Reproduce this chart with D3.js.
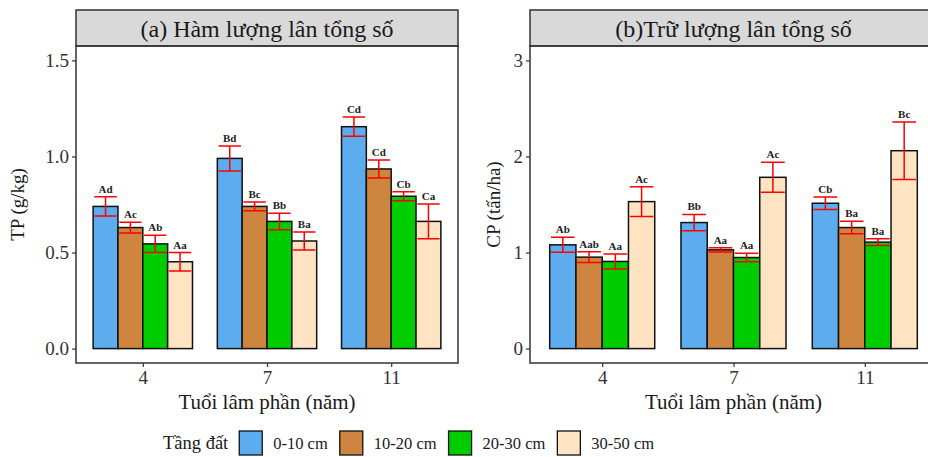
<!DOCTYPE html>
<html lang="vi">
<head>
<meta charset="UTF-8">
<script src="https://d3js.org/d3.v7.min.js"></script>
<style>
body { margin: 0; background: #fff; }
svg { display: block; font-family: "Liberation Serif", "DejaVu Serif", serif; }
.strip rect { fill: #d9d9d9; stroke: #333; stroke-width: 1.5; }
.frame { fill: none; stroke: #333; stroke-width: 1.5; }
.axis path { display: none; }
.axis line { stroke: #333; stroke-width: 1.2; }
.axis text { font-family: "Liberation Serif", serif; font-size: 19px; fill: #333; }
.bar { stroke: #111; stroke-width: 1.5; }
.err { stroke: #ff0000; stroke-width: 1.5; fill: none; }
.lab { font-size: 11px; font-weight: bold; fill: #222; text-anchor: middle; }
</style>
</head>
<body>
<svg id="chart" width="928" height="457"></svg>
<script>
// categories
const ages = ["4", "7", "11"];
const layers = ["0-10 cm", "10-20 cm", "20-30 cm", "30-50 cm"];
const layerColors = ["#5cacee", "#cd853f", "#00cd00", "#ffe4c4"];

// (a) total P content, g/kg  -- rows: age, cols: layer
const tpMean = [[0.74, 0.63, 0.545, 0.452], [0.99, 0.74, 0.662, 0.56], [1.155, 0.935, 0.793, 0.662]];
const tpErr  = [[0.05, 0.028, 0.045, 0.048], [0.065, 0.023, 0.043, 0.047], [0.05, 0.047, 0.024, 0.09]];
const tpLab  = [["Ad", "Ac", "Ab", "Aa"], ["Bd", "Bc", "Bb", "Ba"], ["Cd", "Cd", "Cb", "Ca"]];

// (b) total P stock, t/ha
const cpMean = [[1.08, 0.952, 0.907, 1.53], [1.312, 1.028, 0.948, 1.783], [1.513, 1.26, 1.108, 2.06]];
const cpErr  = [[0.078, 0.055, 0.078, 0.155], [0.085, 0.022, 0.045, 0.156], [0.065, 0.065, 0.035, 0.3]];
const cpLab  = [["Ab", "Aab", "Aa", "Ac"], ["Bb", "Aa", "Aa", "Ac"], ["Cb", "Ba", "Ba", "Bc"]];

const tpTicks = [0, 0.5, 1.0, 1.5];
const cpTicks = [0, 1, 2, 3];

const svg = d3.select("#chart");
svg.append("rect").attr("width", 928).attr("height", 457).attr("fill", "#fff");

const pTop = 46, pBottom = 363, stripTop = 10;

function panel(opt) {
  const g = svg.append("g");
  const x = d3.scalePoint().domain(ages).range([opt.left, opt.right]).padding(opt.pad);
  const step = x.step();
  const inner = d3.scaleBand().domain(layers).range([-0.4 * step, 0.4 * step]);
  const y = d3.scaleLinear().domain(opt.domain).range([pBottom, pTop]);

  // strip
  const s = g.append("g").attr("class", "strip");
  s.append("rect").attr("x", opt.left).attr("y", stripTop)
    .attr("width", opt.right - opt.left).attr("height", pTop - stripTop);
  s.append("text").attr("x", (opt.left + opt.right) / 2).attr("y", 37)
    .attr("text-anchor", "middle").attr("font-size", 24).attr("fill", "#1a1a1a").text(opt.title);

  const rows = [];
  ages.forEach((a, i) => layers.forEach((l, j) => rows.push({
    age: a, layer: l, j: j, v: opt.mean[i][j], e: opt.err[i][j], lab: opt.lab[i][j]
  })));

  const bx = d => x(d.age) + inner(d.layer);
  const bw = inner.bandwidth();

  g.selectAll(".bar").data(rows).enter().append("rect")
    .attr("class", "bar")
    .attr("x", bx).attr("width", bw)
    .attr("y", d => y(d.v)).attr("height", d => y(0) - y(d.v))
    .attr("fill", d => layerColors[d.j]);

  const cap = bw * 0.45;
  const eg = g.selectAll(".eg").data(rows).enter().append("g");
  eg.append("path").attr("class", "err")
    .attr("d", d => {
      const c = bx(d) + bw / 2, t = y(d.v + d.e), b = y(d.v - d.e);
      return `M${c - cap},${t}H${c + cap}M${c},${t}V${b}M${c - cap},${b}H${c + cap}`;
    });
  eg.append("text").attr("class", "lab")
    .attr("x", d => bx(d) + bw / 2)
    .attr("y", d => y(d.v + d.e) - 4)
    .text(d => d.lab);

  g.append("rect").attr("class", "frame")
    .attr("x", opt.left).attr("y", pTop)
    .attr("width", opt.right - opt.left).attr("height", pBottom - pTop);

  g.append("g").attr("class", "axis")
    .attr("transform", `translate(${opt.left},0)`)
    .call(d3.axisLeft(y).tickValues(opt.ticks).tickFormat(d3.format(opt.fmt)).tickSize(4).tickPadding(3));
  g.append("g").attr("class", "axis")
    .attr("transform", `translate(0,${pBottom})`)
    .call(d3.axisBottom(x).tickSize(4).tickPadding(4));

  g.append("text").attr("x", (opt.left + opt.right) / 2).attr("y", 409)
    .attr("text-anchor", "middle").attr("font-size", 21).attr("fill", "#1a1a1a")
    .text("Tuổi lâm phần (năm)");
  g.append("text")
    .attr("transform", `translate(${opt.ytx},${(pTop + pBottom) / 2}) rotate(-90)`)
    .attr("text-anchor", "middle").attr("font-size", 19).attr("fill", "#1a1a1a")
    .text(opt.ytitle);
}

panel({ left: 76, right: 458, pad: 0.538, domain: [-0.075, 1.575], ticks: tpTicks, fmt: ".1f",
  mean: tpMean, err: tpErr, lab: tpLab, title: "(a) Hàm lượng lân tổng số", ytitle: "TP (g/kg)", ytx: 24 });
panel({ left: 530, right: 937, pad: 0.55, domain: [-0.15, 3.15], ticks: cpTicks, fmt: "d",
  mean: cpMean, err: cpErr, lab: cpLab, title: "(b)Trữ lượng lân tổng số", ytitle: "CP (tấn/ha)", ytx: 500 });

// legend
const lg = svg.append("g").attr("transform", "translate(0,443)");
const lt = lg.append("text").attr("x", 163).attr("y", 6).attr("font-size", 18.5).attr("fill", "#1a1a1a").text("Tầng đất");
let cx = 163 + lt.node().getComputedTextLength() + 11;
layers.forEach((l, j) => {
  lg.append("rect").attr("x", cx).attr("y", -12).attr("width", 23).attr("height", 24)
    .attr("fill", layerColors[j]).attr("stroke", "#111").attr("stroke-width", 1.3);
  const t = lg.append("text").attr("x", cx + 34).attr("y", 6).attr("font-size", 16.5).attr("fill", "#1a1a1a").text(l);
  cx += 34 + t.node().getComputedTextLength() + 12;
});
</script>
</body>
</html>
